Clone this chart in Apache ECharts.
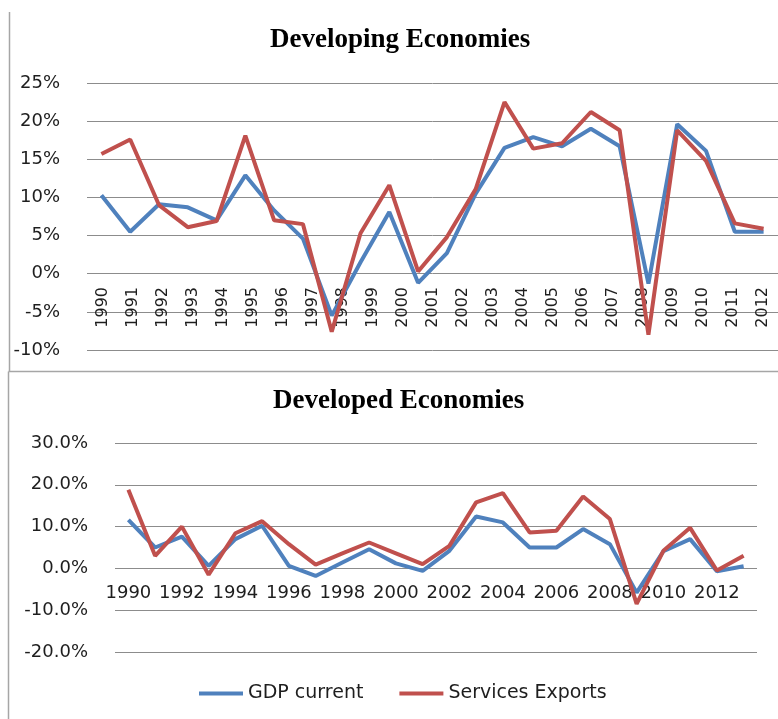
<!DOCTYPE html>
<html>
<head>
<meta charset="utf-8">
<script src="https://cdn.jsdelivr.net/npm/echarts@6/dist/echarts.min.js"></script>
<style>
html,body{margin:0;padding:0;background:#fff;}
#chart{width:778px;height:719px;}
</style>
</head>
<body>
<div id="chart"></div>
<script>
// Categories
const years = ['1990','1991','1992','1993','1994','1995','1996','1997','1998','1999','2000','2001','2002','2003','2004','2005','2006','2007','2008','2009','2010','2011','2012','2013'];
// Tick labels shown on the top chart's axis (1990-2012)
const topTickLabels = ['1990','1991','1992','1993','1994','1995','1996','1997','1998','1999','2000','2001','2002','2003','2004','2005','2006','2007','2008','2009','2010','2011','2012'];

// Developing economies (% growth)
const developingGDP = [10.3, 5.5, 9.1, 8.7, 7.0, 12.9, 8.3, 4.6, -5.5, 1.5, 8.1, -1.2, 2.7, 10.5, 16.5, 17.9, 16.7, 19.0, 16.7, -1.3, 19.6, 16.1, 5.5, 5.5];
const developingServices = [15.7, 17.6, 9.0, 6.1, 6.9, 18.1, 7.0, 6.5, -7.6, 5.3, 11.6, 0.3, 4.8, 11.1, 22.5, 16.4, 17.1, 21.2, 18.8, -8.0, 18.8, 14.8, 6.6, 5.9];

// Developed economies (% growth)
const developedGDP = [11.6, 5.0, 7.6, 0.6, 7.0, 10.2, 0.6, -1.8, 1.4, 4.6, 1.2, -0.6, 4.2, 12.4, 11.0, 5.0, 5.0, 9.4, 5.8, -5.8, 4.1, 7.0, -0.7, 0.5];
const developedServices = [18.8, 3.0, 10.0, -1.5, 8.4, 11.3, 5.8, 0.9, 3.6, 6.2, 3.6, 1.0, 5.4, 15.8, 18.0, 8.6, 9.0, 17.2, 11.8, -8.5, 4.2, 9.7, -0.5, 3.0];

const seriesNames = ['GDP current', 'Services Exports'];
const BLUE = '#4F81BD', RED = '#C0504D';
const GRID = '#8c8c8c';
const FONT = 'DejaVu Sans';
const TXT = '#1e1e1e';

const chart = echarts.init(document.getElementById('chart'));

const hiddenY = (gi) => ({ gridIndex: gi, type: 'value', min: 0, max: 1, show: false, splitLine: { show: false } });

const option = {
  animation: false,
  backgroundColor: '#fff',
  title: [
    { text: 'Developing Economies', left: 270, top: 27, padding: 0,
      textStyle: { fontFamily: 'Liberation Serif', fontWeight: 'bold', fontSize: 27, color: '#000' } },
    { text: 'Developed Economies', left: 273, top: 388, padding: 0,
      textStyle: { fontFamily: 'Liberation Serif', fontWeight: 'bold', fontSize: 27, color: '#000' } }
  ],
  legend: {
    data: seriesNames,
    left: 199, top: 684, padding: 0,
    icon: 'rect', itemWidth: 44, itemHeight: 4, itemGap: 36,
    textStyle: { fontFamily: FONT, fontSize: 19, color: TXT }
  },
  grid: [
    // top chart: data plot
    { left: 87, right: -12, top: 83, bottom: 369, containLabel: false },
    // top chart: tick-label strip whose bottom edge is the 0% line
    { left: 88, right: 0, top: 83, bottom: 445, containLabel: false },
    // bottom chart: data plot
    { left: 115, right: 21, top: 443, bottom: 67, containLabel: false },
    // bottom chart: tick-label strip whose bottom edge is the 0.0% line
    { left: 115, right: 21, top: 443, bottom: 151, containLabel: false }
  ],
  xAxis: [
    { gridIndex: 0, type: 'category', data: years, boundaryGap: true,
      axisLine: { show: false }, axisTick: { show: false }, axisLabel: { show: false }, splitLine: { show: false } },
    { gridIndex: 1, type: 'category', data: topTickLabels, boundaryGap: true, position: 'bottom',
      axisLine: { show: false, onZero: false }, axisTick: { show: false },
      axisLabel: { show: true, rotate: 90, interval: 0, margin: 13, fontFamily: FONT, fontSize: 16, color: TXT },
      splitLine: { show: false } },
    { gridIndex: 2, type: 'category', data: years, boundaryGap: true,
      axisLine: { show: false }, axisTick: { show: false }, axisLabel: { show: false }, splitLine: { show: false } },
    { gridIndex: 3, type: 'category', data: years, boundaryGap: true, position: 'bottom',
      axisLine: { show: false, onZero: false }, axisTick: { show: false },
      axisLabel: { show: true, interval: 1, margin: 16, fontFamily: FONT, fontSize: 18, color: TXT },
      splitLine: { show: false } }
  ],
  yAxis: [
    { gridIndex: 0, type: 'value', min: -10, max: 25, interval: 5,
      axisLine: { show: false }, axisTick: { show: false },
      axisLabel: { margin: 27, fontFamily: FONT, fontSize: 18, color: TXT, formatter: v => v + '%' },
      splitLine: { show: true, lineStyle: { color: GRID, width: 1 } } },
    hiddenY(1),
    { gridIndex: 2, type: 'value', min: -20, max: 30, interval: 10,
      axisLine: { show: false }, axisTick: { show: false },
      axisLabel: { margin: 27, fontFamily: FONT, fontSize: 18, color: TXT, formatter: v => v.toFixed(1) + '%' },
      splitLine: { show: true, lineStyle: { color: GRID, width: 1 } } },
    hiddenY(3)
  ],
  series: [
    { name: seriesNames[0], type: 'line', xAxisIndex: 0, yAxisIndex: 0, data: developingGDP,
      showSymbol: false, symbol: 'none', color: BLUE, lineStyle: { color: BLUE, width: 4 }, z: 3 },
    { name: seriesNames[1], type: 'line', xAxisIndex: 0, yAxisIndex: 0, data: developingServices,
      showSymbol: false, symbol: 'none', color: RED, lineStyle: { color: RED, width: 4 }, z: 4 },
    { name: seriesNames[0], type: 'line', xAxisIndex: 2, yAxisIndex: 2, data: developedGDP,
      showSymbol: false, symbol: 'none', color: BLUE, lineStyle: { color: BLUE, width: 4 }, z: 3 },
    { name: seriesNames[1], type: 'line', xAxisIndex: 2, yAxisIndex: 2, data: developedServices,
      showSymbol: false, symbol: 'none', color: RED, lineStyle: { color: RED, width: 4 }, z: 4 }
  ],
  graphic: [
    { type: 'line', shape: { x1: 9.5, y1: 12, x2: 9.5, y2: 371 }, style: { stroke: '#a6a6a6', lineWidth: 1.5 }, silent: true },
    { type: 'line', shape: { x1: 8.5, y1: 371.5, x2: 778, y2: 371.5 }, style: { stroke: '#a6a6a6', lineWidth: 1.5 }, silent: true },
    { type: 'line', shape: { x1: 8.5, y1: 371.5, x2: 8.5, y2: 719 }, style: { stroke: '#a6a6a6', lineWidth: 1.5 }, silent: true }
  ]
};
chart.setOption(option);
</script>
</body>
</html>
